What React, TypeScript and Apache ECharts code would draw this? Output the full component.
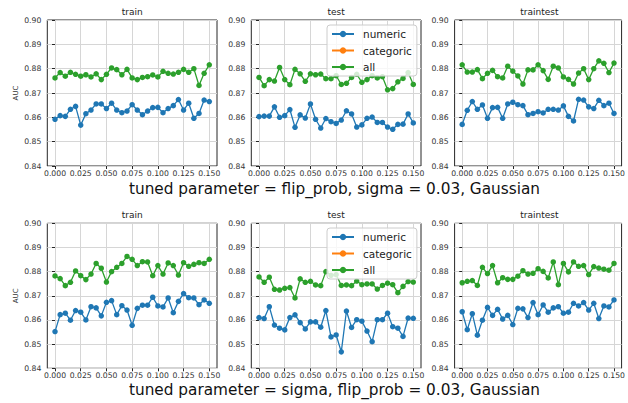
import React, { useEffect, useRef } from 'react';
import * as echarts from 'echarts';

const X = [0.000, 0.005, 0.010, 0.015, 0.020, 0.025, 0.030, 0.035, 0.040, 0.045, 0.050, 0.055, 0.060, 0.065, 0.070, 0.075, 0.080, 0.085, 0.090, 0.095, 0.100, 0.105, 0.110, 0.115, 0.120, 0.125, 0.130, 0.135, 0.140, 0.145, 0.150];
const xTicks = [0, 0.025, 0.05, 0.075, 0.1, 0.125, 0.15];
const panelTitles = ['train', 'test', 'traintest'];
const rowLabels = [
  'tuned parameter = flip_prob, sigma = 0.03, Gaussian',
  'tuned parameter = sigma, flip_prob = 0.03, Gaussian',
];
const seriesNames = ['numeric', 'categoric', 'all'];
const colors = ['#1f77b4', '#ff7f0e', '#2ca02c'];

// Row 1: flip_prob
const r1TrainNumeric = [0.8592, 0.8607, 0.8604, 0.8633, 0.8645, 0.8568, 0.8615, 0.8630, 0.8655, 0.8655, 0.8636, 0.8658, 0.8630, 0.8619, 0.8626, 0.8652, 0.8630, 0.8611, 0.8626, 0.8640, 0.8641, 0.8619, 0.8636, 0.8648, 0.8673, 0.8630, 0.8658, 0.8596, 0.8616, 0.8671, 0.8665];
const r1TrainAll = [0.8762, 0.8784, 0.8769, 0.8785, 0.8777, 0.8769, 0.8775, 0.8766, 0.8779, 0.8755, 0.8777, 0.8803, 0.8796, 0.8775, 0.8797, 0.8762, 0.8755, 0.8764, 0.8767, 0.8774, 0.8766, 0.8789, 0.8781, 0.8778, 0.8785, 0.8797, 0.8785, 0.8800, 0.8731, 0.8781, 0.8816];
const r1TestNumeric = [0.8603, 0.8605, 0.8605, 0.8643, 0.8600, 0.8607, 0.8632, 0.8559, 0.8610, 0.8597, 0.8655, 0.8592, 0.8556, 0.8595, 0.8582, 0.8575, 0.8589, 0.8627, 0.8614, 0.8560, 0.8569, 0.8596, 0.8601, 0.8579, 0.8579, 0.8560, 0.8551, 0.8571, 0.8572, 0.8614, 0.8577];
const r1TestAll = [0.8764, 0.8730, 0.8755, 0.8749, 0.8805, 0.8755, 0.8734, 0.8797, 0.8779, 0.8748, 0.8779, 0.8775, 0.8778, 0.8759, 0.8759, 0.8771, 0.8735, 0.8740, 0.8764, 0.8777, 0.8744, 0.8755, 0.8771, 0.8762, 0.8767, 0.8713, 0.8718, 0.8746, 0.8760, 0.8784, 0.8735];
const r1TraintestNumeric = [0.8571, 0.8629, 0.8665, 0.8633, 0.8651, 0.8596, 0.8640, 0.8641, 0.8596, 0.8655, 0.8662, 0.8652, 0.8648, 0.8611, 0.8616, 0.8623, 0.8618, 0.8633, 0.8633, 0.8630, 0.8647, 0.8604, 0.8585, 0.8674, 0.8671, 0.8643, 0.8636, 0.8670, 0.8648, 0.8658, 0.8616];
const r1TraintestAll = [0.8816, 0.8786, 0.8786, 0.8796, 0.8759, 0.8781, 0.8793, 0.8767, 0.8762, 0.8810, 0.8790, 0.8770, 0.8737, 0.8795, 0.8795, 0.8816, 0.8792, 0.8756, 0.8810, 0.8803, 0.8766, 0.8756, 0.8737, 0.8782, 0.8800, 0.8755, 0.8800, 0.8832, 0.8822, 0.8784, 0.8823];

// Row 2: sigma
const r2TrainNumeric = [0.8552, 0.8622, 0.8628, 0.8599, 0.8639, 0.8632, 0.8600, 0.8655, 0.8650, 0.8617, 0.8673, 0.8680, 0.8622, 0.8659, 0.8641, 0.8578, 0.8648, 0.8661, 0.8661, 0.8694, 0.8658, 0.8654, 0.8691, 0.8630, 0.8677, 0.8709, 0.8692, 0.8691, 0.8663, 0.8683, 0.8669];
const r2TrainAll = [0.8782, 0.8771, 0.8742, 0.8756, 0.8803, 0.8783, 0.8767, 0.8790, 0.8834, 0.8814, 0.8757, 0.8800, 0.8818, 0.8834, 0.8863, 0.8851, 0.8825, 0.8841, 0.8840, 0.8783, 0.8825, 0.8790, 0.8836, 0.8825, 0.8786, 0.8837, 0.8822, 0.8830, 0.8837, 0.8834, 0.8851];
const r2TestNumeric = [0.8610, 0.8606, 0.8655, 0.8579, 0.8566, 0.8559, 0.8610, 0.8621, 0.8589, 0.8563, 0.8592, 0.8592, 0.8570, 0.8639, 0.8530, 0.8538, 0.8468, 0.8637, 0.8569, 0.8601, 0.8595, 0.8554, 0.8510, 0.8601, 0.8601, 0.8628, 0.8572, 0.8566, 0.8532, 0.8608, 0.8607];
const r2TestAll = [0.8778, 0.8756, 0.8777, 0.8727, 0.8724, 0.8731, 0.8734, 0.8691, 0.8770, 0.8756, 0.8760, 0.8745, 0.8742, 0.8800, 0.8785, 0.8788, 0.8743, 0.8745, 0.8742, 0.8761, 0.8746, 0.8749, 0.8749, 0.8728, 0.8743, 0.8752, 0.8746, 0.8713, 0.8739, 0.8759, 0.8757];
const r2TraintestNumeric = [0.8634, 0.8560, 0.8626, 0.8537, 0.8599, 0.8652, 0.8619, 0.8644, 0.8604, 0.8619, 0.8581, 0.8648, 0.8646, 0.8610, 0.8672, 0.8622, 0.8662, 0.8632, 0.8650, 0.8655, 0.8628, 0.8632, 0.8669, 0.8658, 0.8672, 0.8641, 0.8669, 0.8606, 0.8658, 0.8654, 0.8683];
const r2TraintestAll = [0.8754, 0.8760, 0.8763, 0.8743, 0.8818, 0.8792, 0.8825, 0.8754, 0.8775, 0.8768, 0.8768, 0.8781, 0.8804, 0.8790, 0.8793, 0.8812, 0.8801, 0.8774, 0.8840, 0.8746, 0.8834, 0.8799, 0.8840, 0.8822, 0.8825, 0.8788, 0.8821, 0.8815, 0.8810, 0.8806, 0.8834];
const categoricEmpty: number[] = [];

const panels = [
  [r1TrainNumeric, categoricEmpty, r1TrainAll],
  [r1TestNumeric, categoricEmpty, r1TestAll],
  [r1TraintestNumeric, categoricEmpty, r1TraintestAll],
  [r2TrainNumeric, categoricEmpty, r2TrainAll],
  [r2TestNumeric, categoricEmpty, r2TestAll],
  [r2TraintestNumeric, categoricEmpty, r2TraintestAll],
];

const FONT = 'DejaVu Sans';
const colLeft = [47.3, 251.3, 454.6];
const gridW = 169.7;
const rowTop = [20, 223.3];
const rowH = [146, 145];

export default function App() {
  const ref = useRef<HTMLDivElement>(null);
  useEffect(() => {
    if (!ref.current) return;
    const chart = echarts.init(ref.current, undefined, { renderer: 'svg' });
    const grids: any[] = [];
    const xAxes: any[] = [];
    const yAxes: any[] = [];
    const series: any[] = [];
    const graphics: any[] = [];
    for (let p = 0; p < 6; p++) {
      const r = Math.floor(p / 3);
      const c = p % 3;
      grids.push({
        left: colLeft[c], top: rowTop[r], width: gridW, height: rowH[r],
        show: true, borderColor: '#262626', borderWidth: 1, backgroundColor: '#fff',
      });
      xAxes.push({
        type: 'value', gridIndex: p, min: -0.0075, max: 0.1575,
        axisLine: { show: false },
        axisTick: { show: true, length: 3, customValues: xTicks, lineStyle: { color: '#262626' } },
        axisLabel: {
          customValues: xTicks, fontSize: 7.7, fontFamily: FONT, color: '#333', margin: 3.5,
          formatter: (v: number) => v.toFixed(3),
        },
        splitLine: { show: true, lineStyle: { color: '#d6d6d6', width: 1 } },
      });
      yAxes.push({
        type: 'value', gridIndex: p, min: 0.84, max: 0.90, interval: 0.01,
        axisLine: { show: false },
        axisTick: { show: true, length: 3, lineStyle: { color: '#262626' } },
        axisLabel: {
          fontSize: 7.7, fontFamily: FONT, color: '#333', margin: 6,
          formatter: (v: number) => v.toFixed(2),
        },
        splitLine: { show: true, lineStyle: { color: '#d6d6d6', width: 1 } },
      });
      for (let s = 0; s < 3; s++) {
        series.push({
          type: 'line', name: seriesNames[s], xAxisIndex: p, yAxisIndex: p,
          data: panels[p][s].map((v, i) => [X[i], v]),
          symbol: 'circle', symbolSize: 5.5, showSymbol: true,
          itemStyle: { color: colors[s] },
          lineStyle: { color: colors[s], width: 1.3 },
          z: 2,
        });
      }
      graphics.push({
        type: 'text', x: colLeft[c] + gridW / 2, y: r === 0 ? 11.7 : 214.7,
        style: { text: panelTitles[c], font: `9px "${FONT}"`, fill: '#222', textAlign: 'center', textVerticalAlign: 'middle' },
      });
    }
    for (let r = 0; r < 2; r++) {
      graphics.push({
        type: 'text', x: 16, y: rowTop[r] + rowH[r] / 2, rotation: Math.PI / 2,
        style: { text: 'AUC', font: `7px "${FONT}"`, fill: '#333', textAlign: 'center', textVerticalAlign: 'middle' },
      });
      graphics.push({
        type: 'text', x: 334.5, y: r === 0 ? 189 : 389.5,
        style: { text: rowLabels[r], font: `15.3px "${FONT}"`, fill: '#111', textAlign: 'center', textVerticalAlign: 'middle' },
      });
    }
    const legendBase = {
      orient: 'vertical', left: 327, data: seriesNames,
      backgroundColor: 'rgba(255,255,255,0.8)', borderColor: '#cccccc', borderWidth: 1, borderRadius: 3,
      padding: [3, 5, 3, 4], itemWidth: 22, itemHeight: 8, itemGap: 4.5,
      textStyle: { fontSize: 10.5, fontFamily: FONT, color: '#222', lineHeight: 12, padding: [0, 0, 0, 4] },
      z: 10,
    };
    chart.setOption({
      animation: false,
      backgroundColor: '#fff',
      grid: grids,
      xAxis: xAxes,
      yAxis: yAxes,
      series,
      legend: [
        { ...legendBase, top: 25 },
        { ...legendBase, top: 228 },
      ],
      graphic: graphics,
    });
    return () => chart.dispose();
  }, []);
  return <div ref={ref} style={{ width: 628, height: 403, position: 'fixed', left: 0, top: 0 }} />;
}
